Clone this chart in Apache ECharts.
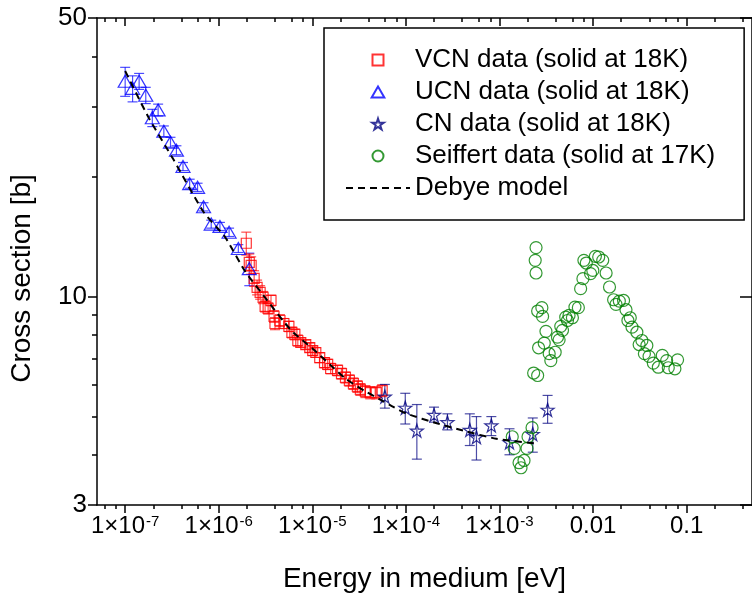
<!DOCTYPE html>
<html lang="en">
<head>
    <meta charset="UTF-8">
    <title>Cross section vs energy</title>
    <script src="https://cdn.jsdelivr.net/npm/echarts@6/dist/echarts.min.js"></script>
    <style>
        html, body { margin: 0; padding: 0; background: #fff; }
    </style>
</head>
<body>
    <div id="main" style="width: 752px; height: 601px"></div>
    <script>
        var myChart = echarts.init(document.getElementById('main'))
        var FONT = '"Liberation Sans", Arial, Helvetica, sans-serif'

        // tick labels
        var xMajor = [1e-7, 1e-6, 1e-5, 1e-4, 1e-3, 0.01, 0.1]
        var yMajor = [3, 10, 50]
        var yMinor = [4, 5, 6, 7, 8, 9, 20, 30, 40]

        // UCN data (triangles)
        var ucnE = [1.00e-7, 1.20e-7, 1.41e-7, 1.66e-7, 1.95e-7, 2.25e-7, 2.59e-7, 3.05e-7, 3.53e-7, 4.15e-7, 4.89e-7, 5.94e-7, 6.88e-7, 8.31e-7, 1.03e-6, 1.29e-6, 1.62e-6, 2.12e-6]
        var ucnS = [34.7, 33.3, 34.7, 32.0, 28.1, 29.4, 26.0, 24.4, 23.3, 21.2, 19.2, 18.8, 16.8, 15.2, 15.0, 14.5, 13.2, 11.75]
        var ucnErr = [2.9, 2.5, 1.6, 1.5, 1.4, 1.0, 0.8, 0.7, 0.6, 0.5, 0.5, 0.45, 0.4, 0.35, 0.35, 0.35, 0.3, 1.1]

        // VCN data (squares)
        var vcnE = [1.97e-6, 2.12e-6, 2.22e-6, 2.39e-6, 2.57e-6, 2.77e-6, 2.98e-6, 3.13e-6, 3.37e-6, 3.62e-6,
                    3.90e-6, 3.99e-6, 4.51e-6, 4.97e-6, 5.62e-6, 6.05e-6, 6.51e-6, 7.00e-6, 7.53e-6, 8.51e-6,
                    9.39e-6, 1.01e-5, 1.09e-5, 1.20e-5, 1.35e-5, 1.46e-5, 1.57e-5, 1.86e-5, 2.05e-5, 2.26e-5,
                    2.49e-5, 2.75e-5, 3.03e-5, 3.26e-5, 3.69e-5, 4.16e-5, 4.82e-5, 5.58e-5]
        var vcnS = [13.61, 12.19, 11.98, 11.11, 10.55, 10.25, 9.95, 9.45, 9.34, 9.78,
                    8.92, 8.56, 8.71, 8.56, 8.42, 8.13, 8.04, 7.76, 7.67, 7.58,
                    7.45, 7.32, 7.24, 7.03, 6.83, 6.76, 6.60, 6.53, 6.41, 6.27,
                    6.16, 6.05, 5.95, 5.85, 5.78, 5.74, 5.74, 5.81]
        var vcnErr = [0.9, 0.6, 0.6, 0.5, 0.45, 0.4, 0.35, 0.3, 0.3, 0.3,
                      0.3, 0.3, 0.3, 0.25, 0.25, 0.25, 0.25, 0.25, 0.2, 0.2,
                      0.2, 0.2, 0.2, 0.2, 0.2, 0.2, 0.2, 0.2, 0.2, 0.2,
                      0.2, 0.2, 0.2, 0.2, 0.2, 0.2, 0.2, 0.2]

        // CN data (stars), error bar ends
        var cnE = [5.96e-5, 9.85e-5, 1.31e-4, 2.00e-4, 2.78e-4, 4.82e-4, 5.68e-4, 8.19e-4, 1.28e-3, 2.27e-3, 3.27e-3]
        var cnS = [5.61, 5.26, 4.61, 5.05, 4.84, 4.63, 4.44, 4.75, 4.31, 4.52, 5.20]
        var cnLo = [5.25, 4.79, 3.91, 4.84, 4.63, 4.23, 3.89, 4.48, 4.01, 4.07, 4.81]
        var cnHi = [6.02, 5.72, 5.36, 5.28, 5.08, 5.08, 5.00, 5.00, 4.66, 4.96, 5.65]

        // Seiffert data (circles)
        var seiE = [1.37e-3, 1.44e-3, 1.62e-3, 1.70e-3, 1.83e-3, 1.97e-3, 2.02e-3, 2.23e-3,
                    2.32e-3, 2.46e-3, 2.41e-3, 2.46e-3, 2.56e-3, 2.84e-3, 2.89e-3, 3.14e-3, 3.01e-3, 2.62e-3,
                    3.40e-3, 3.54e-3, 3.94e-3, 2.56e-3, 4.17e-3, 4.34e-3, 4.52e-3, 4.72e-3, 5.11e-3, 5.33e-3,
                    5.54e-3, 6.02e-3, 6.41e-3, 6.97e-3, 7.37e-3, 7.80e-3, 7.99e-3, 8.47e-3, 9.41e-3, 9.95e-3,
                    1.06e-2, 1.15e-2, 1.27e-2, 1.38e-2, 1.50e-2, 1.66e-2, 1.76e-2, 1.91e-2, 2.12e-2, 2.25e-2,
                    2.36e-2, 2.50e-2, 2.61e-2, 2.94e-2, 3.33e-2, 3.11e-2, 3.76e-2, 3.54e-2, 3.97e-2, 4.41e-2,
                    4.99e-2, 5.50e-2, 6.12e-2, 6.37e-2, 7.50e-2, 8.01e-2]
        var seiS = [4.45, 4.16, 3.83, 3.72, 3.88, 4.16, 4.45, 4.69,
                    6.43, 13.27, 12.33, 11.46, 9.20, 9.38, 8.92, 8.18, 7.64, 7.44,
                    7.19, 6.91, 7.25, 6.34, 7.91, 7.79, 8.42, 8.23, 8.88, 8.71,
                    8.97, 8.85, 9.41, 9.38, 10.47, 11.09, 12.33, 12.14, 11.42, 11.63,
                    12.62, 12.57, 12.33, 11.46, 10.57, 9.82, 9.56, 9.74, 9.78, 9.27,
                    8.71, 8.85, 8.38, 8.14, 7.76, 7.58, 7.54, 7.19, 7.08, 6.81,
                    6.65, 7.12, 6.91, 6.63, 6.59, 6.94]

        // Debye model curve
        var debyeE = [1e-7, 1.8e-7, 3.31e-7, 6.88e-7, 1.17e-6, 1.9e-6, 3.1e-6, 5.94e-6, 1.01e-5, 1.58e-5,
                      2.28e-5, 3.57e-5, 5.15e-5, 7.42e-5, 1.03e-4, 2.14e-4, 4.1e-4, 9.25e-4, 2.46e-3]
        var debyeS = [36.8, 28.0, 22.0, 16.3, 14.1, 11.6, 9.97, 8.23, 7.40, 6.72,
                      6.22, 5.81, 5.54, 5.28, 5.08, 4.81, 4.61, 4.40, 4.28]

        var xMinor = []
        for (var d = -8; d <= -1; d++) {
            [2, 4, 6, 8].forEach(function (m) {
                var v = m * Math.pow(10, d)
                if (v > 5e-8 && v < 0.5) xMinor.push(v)
            })
        }

        function pairs(xs, ys) {
            return xs.map(function (x, i) { return [x, ys[i]] })
        }

        function errSeries(name, xs, lo, hi, color) {
            return {
                name: name,
                type: 'custom',
                silent: true,
                z: 2,
                data: xs.map(function (x, i) { return [x, lo[i], hi[i]] }),
                encode: { x: 0, y: [1, 2] },
                renderItem: function (params, api) {
                    var top = api.coord([api.value(0), api.value(2)])
                    var bot = api.coord([api.value(0), api.value(1)])
                    var w = 5
                    var style = { stroke: color, lineWidth: 1.2, opacity: 0.7 }
                    return {
                        type: 'group',
                        children: [
                            { type: 'line', shape: { x1: top[0], y1: top[1], x2: bot[0], y2: bot[1] }, style: style },
                            { type: 'line', shape: { x1: top[0] - w, y1: top[1], x2: top[0] + w, y2: top[1] }, style: style },
                            { type: 'line', shape: { x1: bot[0] - w, y1: bot[1], x2: bot[0] + w, y2: bot[1] }, style: style }
                        ]
                    }
                }
            }
        }

        function symErr(vals, errs, sign) {
            return vals.map(function (v, i) { return v + sign * errs[i] })
        }

        function xLabel(v) {
            if (v < 0.005) {
                var p = Math.round(Math.log10(v))
                return '{a|1\u00d710}{s|' + p + '}'
            }
            return '{a|' + (v >= 0.05 ? '0.1' : '0.01') + '}'
        }

        var axisLineStyle = { color: '#000', width: 1.5 }
        var tickStyle = { color: '#000', width: 1.5 }

        function xAxisOf(pos, vals, len, inside, withLine, withLabel) {
            return {
                type: 'log', logBase: 10, min: 5e-8, max: 0.5,
                position: pos,
                splitLine: { show: false },
                axisLine: { show: withLine, onZero: false, lineStyle: axisLineStyle },
                axisTick: { show: true, customValues: vals, length: len, inside: inside, lineStyle: tickStyle },
                axisLabel: withLabel ? {
                    show: true, customValues: vals, margin: 9, formatter: xLabel,
                    rich: {
                        a: { fontSize: 24, fontFamily: FONT, color: '#000' },
                        s: { fontSize: 15, fontFamily: FONT, color: '#000', verticalAlign: 'top', padding: [0, 0, 10, 1] }
                    }
                } : { show: false }
            }
        }

        function yAxisOf(pos, vals, len, inside, withLine, withLabel) {
            return {
                type: 'log', logBase: 10, min: 3, max: 50,
                position: pos,
                splitLine: { show: false },
                axisLine: { show: withLine, onZero: false, lineStyle: axisLineStyle },
                axisTick: { show: true, customValues: vals, length: len, inside: inside, lineStyle: tickStyle },
                axisLabel: withLabel ? {
                    show: true, customValues: vals, margin: 10,
                    fontSize: 26, fontFamily: FONT, color: '#000'
                } : { show: false }
            }
        }

        var xAxes = [
            xAxisOf('bottom', xMajor, 8, false, true, true),
            xAxisOf('bottom', xMinor, 4, false, false, false),
            xAxisOf('top', xMajor, 8, true, true, false),
            xAxisOf('top', xMinor, 4, true, false, false)
        ]
        xAxes[0].name = 'Energy in medium [eV]'
        xAxes[0].nameLocation = 'middle'
        xAxes[0].nameGap = 60
        xAxes[0].nameTextStyle = { fontSize: 28, fontFamily: FONT, color: '#000' }

        var yAxes = [
            yAxisOf('left', yMajor, 9, false, true, true),
            yAxisOf('left', yMinor, 5, false, false, false),
            yAxisOf('right', yMajor, 12, true, true, false)
        ]
        yAxes[0].name = 'Cross section [b]'
        yAxes[0].nameLocation = 'middle'
        yAxes[0].nameGap = 61
        yAxes[0].nameTextStyle = { fontSize: 28, fontFamily: FONT, color: '#000', padding: [0, 34, 0, 0] }

        var starPath = 'path://M50,0L61.2,34.5L97.6,34.5L68.2,55.9L79.4,90.5L50,69.1L20.6,90.5L31.8,55.9L2.4,34.5L38.8,34.5Z'
        var rectPath = 'path://M0,0L10,0L10,10L0,10Z'
        var triPath = 'path://M6,0L12,10.4L0,10.4Z'

        var option = {
            animation: false,
            backgroundColor: '#fff',
            grid: { left: 97, top: 18, right: -6, bottom: 96 },
            xAxis: xAxes,
            yAxis: yAxes,
            legend: {
                left: 324, top: 28,
                orient: 'vertical',
                selectedMode: false,
                symbolKeepAspect: true,
                itemWidth: 64, itemHeight: 11, itemGap: 6,
                padding: [19, 29, 19, 21],
                borderColor: '#000', borderWidth: 1.5,
                backgroundColor: '#fff',
                textStyle: { fontSize: 26, fontFamily: FONT, color: '#000' },
                data: [
                    { name: 'VCN data (solid at 18K)', icon: rectPath },
                    { name: 'UCN data (solid at 18K)', icon: triPath },
                    { name: 'CN data (solid at 18K)' },
                    { name: 'Seiffert data (solid at 17K)' },
                    { name: 'Debye model', itemStyle: { opacity: 0 } }
                ]
            },
            series: [
                errSeries('ucn-err', ucnE, symErr(ucnS, ucnErr, -1), symErr(ucnS, ucnErr, 1), '#0000ff'),
                errSeries('vcn-err', vcnE, symErr(vcnS, vcnErr, -1), symErr(vcnS, vcnErr, 1), '#ff0000'),
                errSeries('cn-err', cnE, cnLo, cnHi, '#000080'),
                {
                    name: 'VCN data (solid at 18K)', type: 'scatter', z: 3,
                    symbol: 'rect', symbolSize: 10,
                    itemStyle: { color: 'rgba(0,0,0,0)', borderColor: '#ff0000', borderWidth: 1.2 },
                    data: pairs(vcnE, vcnS)
                },
                {
                    name: 'UCN data (solid at 18K)', type: 'scatter', z: 3,
                    symbol: 'triangle', symbolSize: [14, 12],
                    itemStyle: { color: 'rgba(0,0,0,0)', borderColor: '#0000ff', borderWidth: 1.2 },
                    data: pairs(ucnE, ucnS)
                },
                {
                    name: 'CN data (solid at 18K)', type: 'scatter', z: 3,
                    symbol: starPath, symbolSize: 13,
                    itemStyle: { color: 'rgba(0,0,0,0)', borderColor: '#000080', borderWidth: 1.2 },
                    data: pairs(cnE, cnS)
                },
                {
                    name: 'Seiffert data (solid at 17K)', type: 'scatter', z: 3,
                    symbol: 'circle', symbolSize: 12,
                    itemStyle: { color: 'rgba(0,0,0,0)', borderColor: '#008000', borderWidth: 1.2 },
                    data: pairs(seiE, seiS)
                },
                {
                    name: 'Debye model', type: 'line', z: 4,
                    symbol: 'none', showSymbol: false, smooth: 0.2,
                    lineStyle: { color: '#000', width: 2, type: [7, 5] },
                    itemStyle: { color: '#000' },
                    data: pairs(debyeE, debyeS)
                }
            ]
        }

        myChart.setOption(option)
    </script>
</body>
</html>
